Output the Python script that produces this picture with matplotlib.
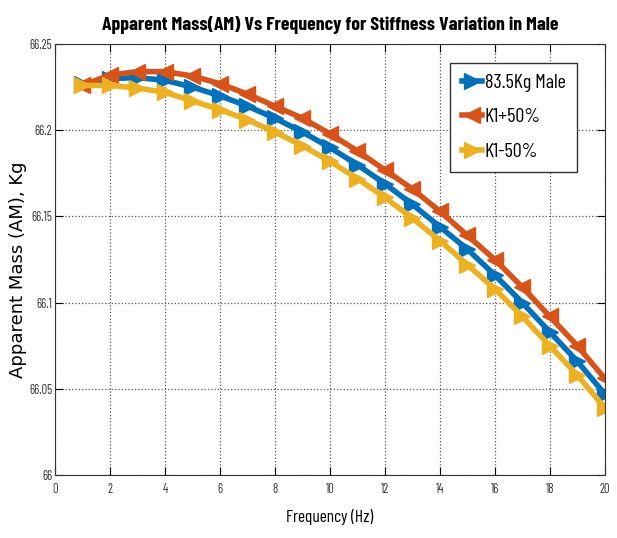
import matplotlib
matplotlib.use("Agg")
import matplotlib.pyplot as plt
from matplotlib import font_manager

freq = list(range(1, 21))
male = [66.227, 66.230, 66.2305, 66.229, 66.225, 66.220, 66.214, 66.207, 66.199, 66.190,
        66.180, 66.169, 66.157, 66.144, 66.131, 66.116, 66.100, 66.083, 66.066, 66.047]
k1_plus = [66.226, 66.232, 66.234, 66.234, 66.2315, 66.227, 66.221, 66.214, 66.207, 66.198,
           66.188, 66.177, 66.166, 66.153, 66.139, 66.125, 66.109, 66.092, 66.075, 66.056]
k1_minus = [66.226, 66.226, 66.2245, 66.222, 66.217, 66.212, 66.206, 66.199, 66.191, 66.182,
            66.172, 66.161, 66.149, 66.136, 66.122, 66.108, 66.092, 66.075, 66.058, 66.039]
labels = ["83.5Kg Male", "K1+50%", "K1-50%"]
xticks = list(range(0, 21, 2))
yticks = [66, 66.05, 66.1, 66.15, 66.2, 66.25]
ytick_labels = ["66", "66.05", "66.1", "66.15", "66.2", "66.25"]

names = {f.name for f in font_manager.fontManager.ttflist}
def pick(cands):
    return [n for n in cands if n in names] + ["DejaVu Sans"]
fam = pick(["Barlow Condensed", "Archivo Narrow"])
fam_title = pick(["Barlow Condensed", "Asap Condensed", "Archivo Narrow"])

fig = plt.figure(figsize=(6.17, 5.38), dpi=100)
ax = fig.add_axes([0.0891, 0.1171, 0.891, 0.801])

colors = ["#0072BD", "#D95319", "#EDB120"]
markers = [">", "<", ">"]
for y, c, m, l in zip([male, k1_plus, k1_minus], colors, markers, labels):
    ax.plot(freq, y, color=c, marker=m, markersize=11, linewidth=4, label=l)

ax.set_xlim(0, 20)
ax.set_ylim(66, 66.25)
ax.set_xticks(xticks)
ax.set_yticks(yticks)
ax.set_yticklabels(ytick_labels)
ax.grid(True, linestyle=":", color="#555555", linewidth=0.9)
ax.tick_params(direction="in", top=True, right=True, length=6, labelsize=9, labelcolor="#333333")
ax.tick_params(axis="x", pad=6)
ax.tick_params(axis="y", pad=2)
for lab in ax.get_xticklabels() + ax.get_yticklabels():
    lab.set_family(fam)
for s in ax.spines.values():
    s.set_color("#333333")

ax.set_title("Apparent Mass(AM) Vs Frequency for Stiffness Variation in Male",
             family=fam_title, fontsize=14.2, fontweight="bold", pad=10)
ax.set_xlabel("Frequency (Hz)", family=fam, fontsize=12.5)
ax.xaxis.set_label_coords(0.5, -0.078)
ax.set_ylabel("Apparent Mass (AM), Kg", fontsize=13, family=["DejaVu Sans"])
ax.yaxis.set_label_coords(-0.05, 0.476)

leg = ax.legend(loc="upper right", bbox_to_anchor=(0.949, 0.956), prop={"family": fam, "size": 14.5},
                fancybox=False, edgecolor="#333333", framealpha=1, handlelength=1.0,
                handletextpad=0.15, borderpad=0.55, labelspacing=0.8, borderaxespad=0)
leg.get_frame().set_linewidth(1.0)

fig.savefig("out.png", dpi=100)
